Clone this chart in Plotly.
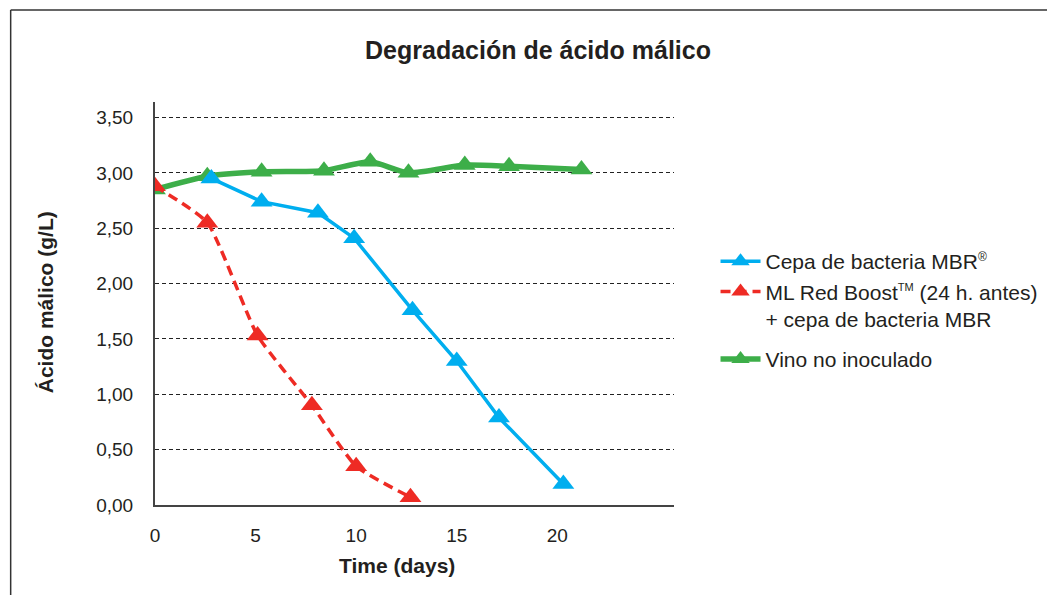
import plotly.graph_objects as go

# ---- data ----
blue_days = [2.8, 5.3, 8.1, 9.9, 12.8, 15.0, 17.1, 20.3]
blue_vals = [2.95, 2.74, 2.64, 2.41, 1.76, 1.30, 0.79, 0.19]

red_days = [0, 2.6, 5.1, 7.8, 10.0, 12.7]
red_vals = [2.88, 2.55, 1.53, 0.90, 0.35, 0.07]

green_days = [0, 2.6, 5.3, 8.4, 10.7, 12.6, 15.4, 17.6, 21.2]
green_vals = [2.85, 2.97, 3.01, 3.02, 3.10, 3.00, 3.07, 3.06, 3.03]

y_tickvals = [0, 0.5, 1.0, 1.5, 2.0, 2.5, 3.0, 3.5]
y_ticktext = ["0,00", "0,50", "1,00", "1,50", "2,00", "2,50", "3,00", "3,50"]
x_tickvals = [0, 5, 10, 15, 20]

name_blue = "Cepa de bacteria MBR<sup><span style='font-size:12px'>®</span></sup>"
name_red = ("ML Red Boost<sup><span style='font-size:11px'>TM</span></sup> (24 h. antes)"
            "<br>+ cepa de bacteria MBR")
name_green = "Vino no inoculado"

BLUE = "#00AEEF"
RED = "#EE2B24"
GREEN = "#3DAE49"
TXT = "#231F20"
FONT = "Liberation Sans, Arial, sans-serif"

# page body has an 8px margin; work in reference pixel coordinates
OFF = 8
W, H = 1055 - OFF, 595 - OFF
PX0, PX1 = 155, 680   # plot area left/right (reference px)
PY0, PY1 = 102, 505   # plot area top/bottom (reference px)
PW, PH = PX1 - PX0, PY1 - PY0


def px(x):
    return (x - PX0) / PW


def py(y):
    return (PY1 - y) / PH


fig = go.Figure()
fig.add_trace(go.Scatter(
    x=green_days, y=green_vals, name=name_green, mode="lines+markers",
    legendgroup="b", legendrank=3,
    line=dict(color=GREEN, width=5.5, shape="spline", smoothing=0.6),
    marker=dict(symbol="triangle-up", size=19, color=GREEN),
))
fig.add_trace(go.Scatter(
    x=blue_days, y=blue_vals, name=name_blue, mode="lines+markers",
    legendgroup="a", legendrank=1,
    line=dict(color=BLUE, width=3.5),
    marker=dict(symbol="triangle-up", size=19, color=BLUE),
))
fig.add_trace(go.Scatter(
    x=red_days, y=red_vals, name=name_red, mode="lines+markers",
    legendgroup="a", legendrank=2,
    line=dict(color=RED, width=3.5, dash="10px,6px", shape="spline", smoothing=0.5),
    marker=dict(symbol="triangle-up", size=19, color=RED),
))

fig.update_layout(
    width=W, height=H,
    margin=dict(l=PX0 - OFF, r=W - (PX1 - OFF), t=PY0 - OFF, b=H - (PY1 - OFF)),
    paper_bgcolor="white", plot_bgcolor="white",
    font=dict(family=FONT, color=TXT, size=19),
    title=dict(text="<b>Degradación de ácido málico</b>", x=(538 - OFF) / W, xref="container",
               xanchor="center", y=1 - (50 - OFF) / H, yref="container", yanchor="middle",
               font=dict(size=25, color=TXT)),
    showlegend=True,
    legend=dict(x=px(722), xanchor="left", y=py(241), yanchor="top",
                font=dict(size=21, color=TXT), bgcolor="rgba(0,0,0,0)",
                valign="top", itemwidth=40, traceorder="grouped", tracegroupgap=10),
    xaxis=dict(range=[0, 25.8], tickvals=x_tickvals, showgrid=False, zeroline=False,
               showline=True, linecolor="#444", linewidth=2,
               ticks="outside", ticklen=12, tickcolor="rgba(0,0,0,0)",
               tickfont=dict(size=19, color=TXT)),
    yaxis=dict(range=[0, 3.64], tickvals=y_tickvals, ticktext=y_ticktext,
               showgrid=True, gridcolor="#222", gridwidth=1, griddash="4px,3px",
               zeroline=False, showline=True, linecolor="#444", linewidth=2,
               ticks="outside", ticklen=16, tickcolor="rgba(0,0,0,0)",
               tickfont=dict(size=19, color=TXT)),
    annotations=[
        dict(text="<b>Time (days)</b>", x=px(400), y=py(565),
             xref="paper", yref="paper", showarrow=False, xanchor="center", yanchor="middle",
             font=dict(size=21, color=TXT)),
        dict(text="<b>Ácido málico (g/L)</b>", x=px(44), y=py(302),
             xref="paper", yref="paper", showarrow=False, textangle=-90,
             xanchor="center", yanchor="middle", font=dict(size=21, color=TXT)),
    ],
    shapes=[
        dict(type="line", xref="paper", yref="paper", x0=px(9), x1=px(1070),
             y0=py(10), y1=py(10), line=dict(color="#333", width=1.5)),
        dict(type="line", xref="paper", yref="paper", x0=px(9), x1=px(9),
             y0=py(10), y1=py(610), line=dict(color="#333", width=1.5)),
    ],
)

fig.write_html("out.html")
